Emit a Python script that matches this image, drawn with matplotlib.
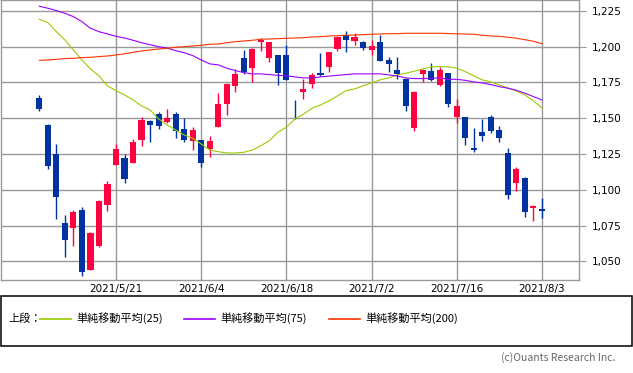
import matplotlib.pyplot as plt
from matplotlib.patches import Rectangle
from matplotlib.lines import Line2D

plt.rcParams['font.family'] = ['Noto Sans CJK JP', 'DejaVu Sans']

dates = ["2021/5/10", "2021/5/11", "2021/5/12", "2021/5/13", "2021/5/14",
         "2021/5/17", "2021/5/18", "2021/5/19", "2021/5/20", "2021/5/21",
         "2021/5/24", "2021/5/25", "2021/5/26", "2021/5/27", "2021/5/28",
         "2021/5/31", "2021/6/1", "2021/6/2", "2021/6/3", "2021/6/4",
         "2021/6/7", "2021/6/8", "2021/6/9", "2021/6/10", "2021/6/11",
         "2021/6/14", "2021/6/15", "2021/6/16", "2021/6/17", "2021/6/18",
         "2021/6/21", "2021/6/22", "2021/6/23", "2021/6/24", "2021/6/25",
         "2021/6/28", "2021/6/29", "2021/6/30", "2021/7/1", "2021/7/2",
         "2021/7/5", "2021/7/6", "2021/7/7", "2021/7/8", "2021/7/9",
         "2021/7/12", "2021/7/13", "2021/7/14", "2021/7/15", "2021/7/16",
         "2021/7/19", "2021/7/20", "2021/7/21", "2021/7/26", "2021/7/27",
         "2021/7/28", "2021/7/29", "2021/7/30", "2021/8/2", "2021/8/3"]

opens = [1164.0, 1145.3, 1125.0, 1076.8, 1073.5, 1085.9, 1044.2, 1060.7, 1089.6, 1117.6,
         1122.2, 1119.0, 1135.0, 1148.1, 1153.0, 1147.6, 1153.0, 1142.5, 1134.3, 1134.8,
         1128.7, 1144.1, 1160.2, 1172.6, 1192.1, 1185.2, 1203.3, 1192.1, 1194.2, 1194.2,
         1156.0, 1168.6, 1174.2, 1181.9, 1186.1, 1198.4, 1208.2, 1204.0, 1203.3, 1197.7,
         1203.3, 1190.7, 1183.8, 1177.5, 1143.4, 1181.0, 1183.1, 1173.3, 1181.7, 1151.1,
         1150.9, 1129.4, 1140.6, 1150.9, 1142.0, 1125.9, 1105.0, 1108.5, 1087.5, 1086.6]
highs = [1166.3, 1146.0, 1132.0, 1082.4, 1085.9, 1087.8, 1070.7, 1092.7, 1106.2, 1132.0,
         1125.0, 1135.5, 1150.9, 1148.8, 1154.4, 1156.7, 1154.4, 1150.2, 1143.9, 1134.8,
         1137.6, 1167.7, 1174.9, 1184.5, 1197.7, 1199.1, 1206.1, 1203.3, 1194.2, 1201.2,
         1162.8, 1177.7, 1181.9, 1195.6, 1196.5, 1207.5, 1211.0, 1209.6, 1204.0, 1204.7,
         1208.2, 1192.8, 1192.8, 1178.4, 1169.3, 1184.5, 1188.7, 1185.9, 1181.7, 1163.5,
         1150.9, 1143.4, 1149.5, 1152.3, 1144.8, 1129.4, 1116.2, 1109.2, 1089.6, 1094.5]
lows = [1155.3, 1114.5, 1079.8, 1053.2, 1060.9, 1040.0, 1043.7, 1060.2, 1085.4, 1117.0,
        1105.0, 1119.0, 1130.8, 1133.6, 1142.5, 1147.0, 1136.4, 1133.6, 1128.0, 1116.2,
        1123.1, 1144.1, 1152.5, 1168.6, 1181.0, 1175.6, 1197.0, 1189.6, 1173.5, 1176.8,
        1149.5, 1163.7, 1171.4, 1179.8, 1182.6, 1197.0, 1196.3, 1201.2, 1197.7, 1194.2,
        1190.0, 1182.4, 1177.5, 1155.3, 1141.3, 1175.6, 1176.1, 1172.6, 1158.1, 1146.9,
        1131.5, 1126.6, 1134.3, 1139.9, 1133.6, 1093.8, 1099.4, 1081.2, 1078.4, 1080.5]
closes = [1156.7, 1116.9, 1095.2, 1065.1, 1084.5, 1042.8, 1069.8, 1092.2, 1104.1, 1128.5,
          1107.8, 1133.4, 1148.8, 1145.5, 1144.6, 1150.2, 1141.3, 1135.0, 1141.8, 1119.0,
          1134.1, 1160.0, 1174.2, 1181.0, 1182.4, 1198.4, 1204.7, 1203.3, 1181.7, 1176.8,
          1155.6, 1170.7, 1180.3, 1180.5, 1196.5, 1207.0, 1204.7, 1206.8, 1199.1, 1200.5,
          1190.0, 1188.0, 1181.0, 1158.8, 1168.6, 1183.8, 1176.8, 1183.8, 1160.2, 1158.6,
          1136.4, 1128.0, 1137.8, 1141.3, 1136.4, 1096.6, 1114.8, 1084.7, 1088.9, 1085.4]

ma25 = [1219.2, 1216.8, 1210.5, 1204.7, 1197.7, 1190.7, 1184.5, 1179.6, 1172.6, 1169.3,
        1166.3, 1162.8, 1158.6, 1155.8, 1149.5, 1145.3, 1141.8, 1138.3, 1136.0, 1132.0,
        1127.8, 1126.6, 1125.7, 1125.7, 1126.2, 1127.8, 1130.8, 1134.3, 1140.2, 1143.7,
        1149.5, 1152.8, 1157.0, 1159.3, 1162.1, 1165.6, 1169.3, 1170.5, 1172.6, 1174.7,
        1176.8, 1178.2, 1180.3, 1181.4, 1182.8, 1184.5, 1185.9, 1186.1, 1185.9, 1185.0,
        1182.6, 1179.6, 1176.8, 1175.4, 1173.3, 1171.2, 1168.9, 1166.3, 1162.1, 1157.2]
ma75 = [1228.3, 1226.9, 1225.2, 1223.4, 1221.0, 1217.5, 1212.9, 1210.5, 1208.9, 1207.3,
        1206.1, 1204.5, 1202.8, 1201.4, 1200.0, 1199.1, 1197.2, 1195.8, 1193.8, 1190.7,
        1188.0, 1187.3, 1185.0, 1183.3, 1181.9, 1181.0, 1181.0, 1180.5, 1180.0, 1179.6,
        1178.9, 1178.2, 1178.2, 1178.9, 1179.4, 1180.0, 1180.5, 1181.0, 1181.0, 1181.0,
        1181.0, 1180.3, 1179.6, 1178.2, 1177.7, 1177.7, 1177.9, 1178.2, 1177.2, 1177.2,
        1176.5, 1175.4, 1174.7, 1173.5, 1172.1, 1171.0, 1169.6, 1167.5, 1165.1, 1162.8]
ma200 = [1190.5, 1190.7, 1191.2, 1191.7, 1191.9, 1192.4, 1192.6, 1193.1, 1193.5, 1194.2,
         1195.1, 1196.1, 1197.0, 1197.7, 1198.4, 1198.9, 1199.6, 1200.0, 1200.5, 1201.0,
         1201.7, 1201.9, 1202.8, 1203.5, 1204.0, 1204.5, 1205.2, 1205.4, 1205.6, 1205.9,
         1206.1, 1206.3, 1206.8, 1207.0, 1207.5, 1207.7, 1208.0, 1208.2, 1208.4, 1208.7,
         1208.9, 1209.1, 1209.1, 1209.4, 1209.4, 1209.4, 1209.4, 1209.4, 1209.2, 1209.0,
         1208.9, 1208.7, 1208.0, 1207.5, 1207.3, 1206.6, 1205.9, 1204.9, 1203.8, 1202.1]

label_idx = [9, 19, 29, 39, 49, 59]
yticks = [1050, 1075, 1100, 1125, 1150, 1175, 1200, 1225]

up_color = '#ff0040'
down_color = '#0033a0'
grid_color = '#999999'

fig = plt.figure(figsize=(6.33, 3.73), dpi=100)
ax = fig.add_axes([1 / 633, 92.7 / 373, 578 / 633, 279.8 / 373])

# candles
for i in range(len(dates)):
    o, h, l, c = opens[i], highs[i], lows[i], closes[i]
    col = up_color if c >= o else down_color
    ax.plot([i, i], [l, h], color=col, lw=1, zorder=3, solid_capstyle='butt')
    bottom = min(o, c)
    height = max(abs(c - o), 0.4)
    ax.add_patch(Rectangle((i - 0.36, bottom), 0.72, height, facecolor=col,
                           edgecolor='none', zorder=4))

x = list(range(len(dates)))
ax.plot(x, ma25, color='#99cc00', lw=0.8, zorder=5)
ax.plot(x, ma75, color='#9900ff', lw=0.8, zorder=5)
ax.plot(x, ma200, color='#ff3300', lw=0.8, zorder=5)

ax.set_xlim(-4.5, 63.35)
ax.set_ylim(1036.7, 1232.3)
ax.set_xticks(label_idx)
ax.set_xticklabels([dates[i] for i in label_idx], fontsize=7.5, family='DejaVu Sans')
ax.set_yticks(yticks)
ax.set_yticklabels([f"{v:,}" for v in yticks], fontsize=7.5, family='DejaVu Sans')
ax.yaxis.tick_right()
ax.tick_params(axis='y', length=5, color=grid_color, pad=4)
ax.tick_params(axis='x', length=0, pad=3)
ax.grid(True, color=grid_color, lw=1)
ax.set_axisbelow(True)
for s in ax.spines.values():
    s.set_color(grid_color)
    s.set_linewidth(1)

# legend box below the chart
fig.add_artist(Rectangle((1 / 633, 27 / 373), 631 / 633, 50.5 / 373,
                         transform=fig.transFigure, facecolor='white',
                         edgecolor='black', lw=1.1))
ly = 1 - 318.5 / 373
fig.text(8 / 633, ly, "上段：", fontsize=8, va='center')
legend_items = [('#99cc00', "単純移動平均(25)", 40),
                ('#9900ff', "単純移動平均(75)", 184),
                ('#ff3300', "単純移動平均(200)", 329)]
for col, txt, x0 in legend_items:
    fig.add_artist(Line2D([x0 / 633, (x0 + 31) / 633], [ly, ly],
                          transform=fig.transFigure, color=col, lw=1.2))
    fig.text((x0 + 36) / 633, ly, txt, fontsize=8, va='center')

fig.text(615 / 633, 1 - 358 / 373, "(c)Ouants Research Inc.", fontsize=7.5,
         color='#666666', ha='right', va='center')

fig.savefig("out.png", dpi=100)
